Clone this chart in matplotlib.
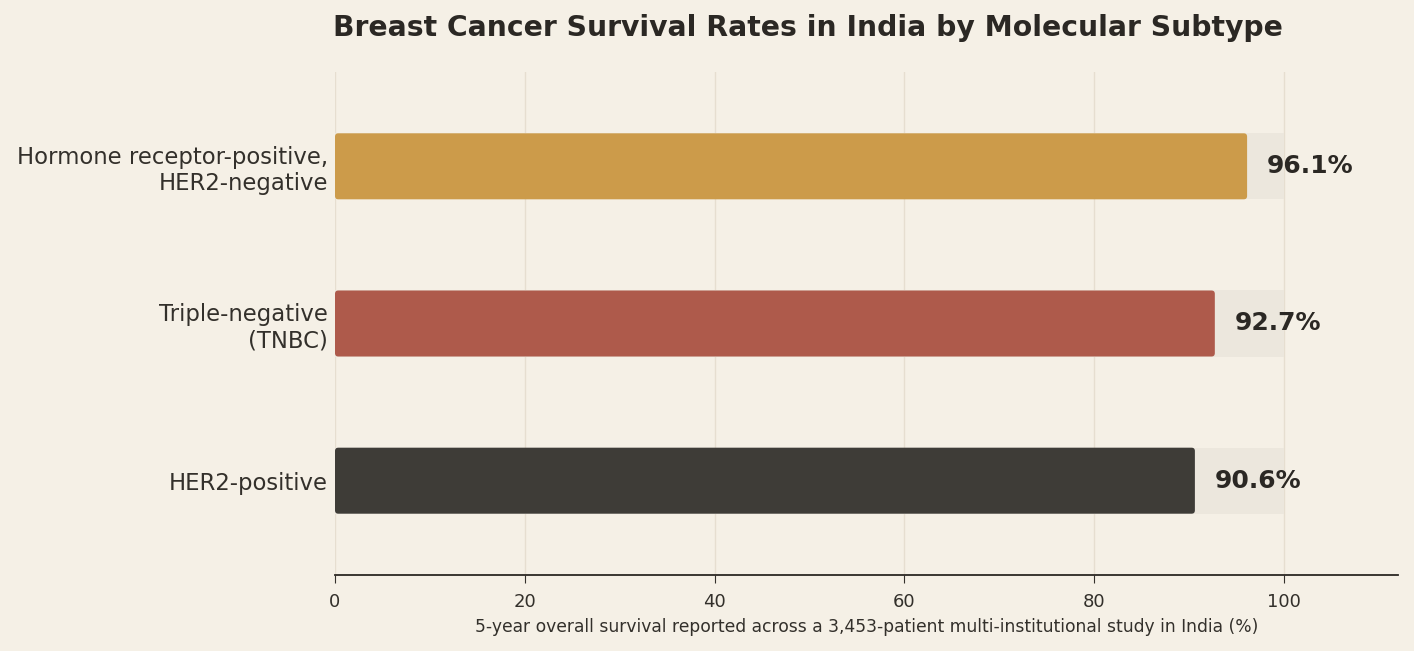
import matplotlib
matplotlib.use("Agg")
import matplotlib.pyplot as plt
from matplotlib.patches import FancyBboxPatch

categories = ["HER2-positive", "Triple-negative\n(TNBC)", "Hormone receptor-positive,\nHER2-negative"]
survival = [90.6, 92.7, 96.1]
bar_colors = ["#33312D", "#AA5142", "#CA9741"]
xticks = [0, 20, 40, 60, 80, 100]

BG = "#F5F0E6"
fig = plt.figure(figsize=(14.14, 6.51), dpi=100, facecolor=BG)
ax = fig.add_axes([335/1414, 1-575/651, (1398-335)/1414, (575-72)/651])
ax.set_facecolor(BG)

ypos = list(range(len(categories)))
ax.barh(ypos, [100]*len(ypos), height=0.42, color="#ECE7DD", zorder=1)
bars = ax.barh(ypos, survival, height=0.42, color=bar_colors, linewidth=0,
               alpha=0.94, zorder=2)
# give the bars slightly rounded corners
for b, c in zip(bars, bar_colors):
    x0, y0, w, h = b.get_x(), b.get_y(), b.get_width(), b.get_height()
    b.set_visible(False)
    ax.add_patch(FancyBboxPatch((x0, y0), w, h,
                                boxstyle="round,pad=0,rounding_size=0.35",
                                mutation_aspect=0.06, facecolor=c, edgecolor="none",
                                alpha=0.94, zorder=2))
for y, v in zip(ypos, survival):
    ax.text(v + 2.1, y, f"{v:.1f}%", va="center", ha="left", fontsize=18,
            fontweight="bold", color="#2B2824", zorder=3)

ax.set_xlim(0, 112)
ax.set_ylim(-0.6, 2.6)
ax.set_xticks(xticks)
ax.set_yticks(ypos)
ax.set_yticklabels(categories, fontsize=16.4, color="#33302B")
ax.tick_params(axis="y", length=0, pad=5)
ax.tick_params(axis="x", labelsize=13, colors="#33302B", length=6, pad=7)
ax.grid(axis="x", color="#E6DED0", linewidth=1.0, zorder=0)
ax.set_axisbelow(True)
for s in ["top", "right", "left"]:
    ax.spines[s].set_visible(False)
ax.spines["bottom"].set_color("#2B2824")
ax.spines["bottom"].set_linewidth(1.3)
ax.set_xlabel("5-year overall survival reported across a 3,453-patient multi-institutional study in India (%)",
              fontsize=12.3, color="#33302B", labelpad=5)

fig.text(808/1414, 1-28/651, "Breast Cancer Survival Rates in India by Molecular Subtype",
         ha="center", va="center", fontsize=20.3, fontweight="bold", color="#2B2824")

fig.savefig("out.png", dpi=100, facecolor=BG)
